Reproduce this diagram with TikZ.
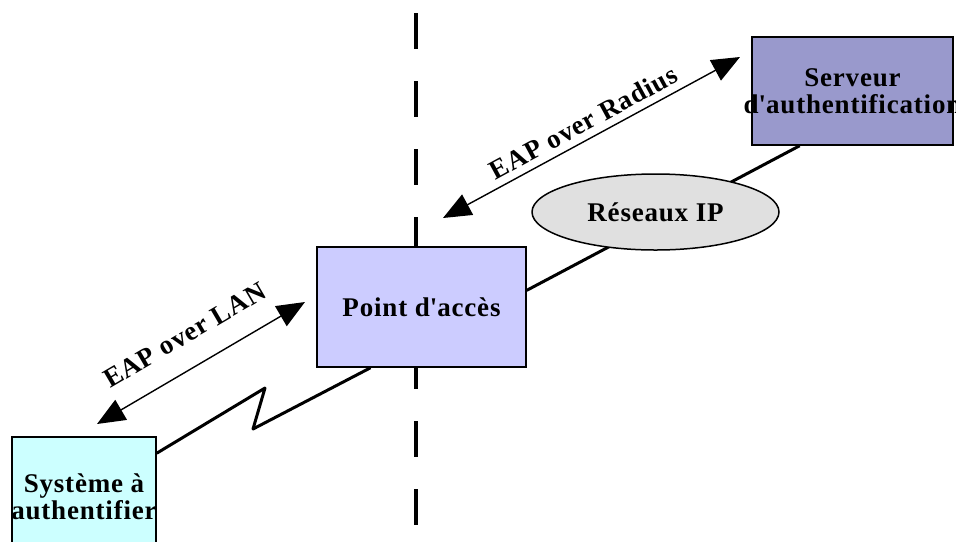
\documentclass[tikz,border=0pt]{standalone}
\usepackage{fontspec}
\setmainfont{Liberation Serif}[LetterSpace=3]
\usetikzlibrary{shapes.geometric,arrows.meta}

\definecolor{srvfill}{HTML}{9999CC}
\definecolor{apfill}{HTML}{CCCCFF}
\definecolor{sysfill}{HTML}{CCFFFF}
\definecolor{netfill}{HTML}{E0E0E0}

\begin{document}
\begin{tikzpicture}[x=0.5pt,y=-0.5pt,
  font=\fontsize{13.5}{15.5}\selectfont\bfseries,
  box/.style={draw,line width=0.75pt,inner sep=0pt},
  link/.style={line width=1.5pt,line join=round},
  eap/.style={line width=0.7pt,{Triangle[length=14pt,width=11.5pt]}-{Triangle[length=14pt,width=11.5pt]}}]
\useasboundingbox (0,0) rectangle (956,541);

% separation wired / wireless side
\draw[line width=2pt,dash pattern=on 18pt off 16pt] (416,13) -- (416,545);

% network link behind the cloud
\node[box,fill=srvfill,minimum width=100.5pt,minimum height=54pt,
  label={[align=center,font=\fontsize{13.5}{13.5}\selectfont\bfseries]center:Serveur\\d\textquotesingle authentification}] (srv) at (852.5,91) {};
\node[box,fill=apfill,minimum width=104.5pt,minimum height=60pt] (ap) at (421.5,307) {Point d\textquotesingle accès};
\node[box,fill=sysfill,minimum width=72pt,minimum height=60pt,
  label={[align=center,font=\fontsize{13.5}{11.5}\selectfont\bfseries]center:Système à\\authentifier}] (sys) at (84,497) {};

\draw[link] (ap.9) -- (srv.226);
\node[box,ellipse,fill=netfill,minimum width=123.5pt,minimum height=38pt] (net) at (655.5,212) {Réseaux IP};

% radio link
\coordinate (zz1) at (265,388);
\coordinate (zz2) at (253,429);
\draw[link] (sys) -- (zz1) -- (zz2) -- (ap.230);

% protocols
\coordinate (lan1) at (97,424);
\coordinate (lan2) at (305,302);
\draw[eap] (lan1) -- node[midway,sloped,above=8pt] {EAP over LAN} (lan2);
\coordinate (rad1) at (443,218);
\coordinate (rad2) at (740,57);
\draw[eap] (rad1) -- node[midway,sloped,above=0pt] {EAP over Radius} (rad2);
\end{tikzpicture}
\end{document}
